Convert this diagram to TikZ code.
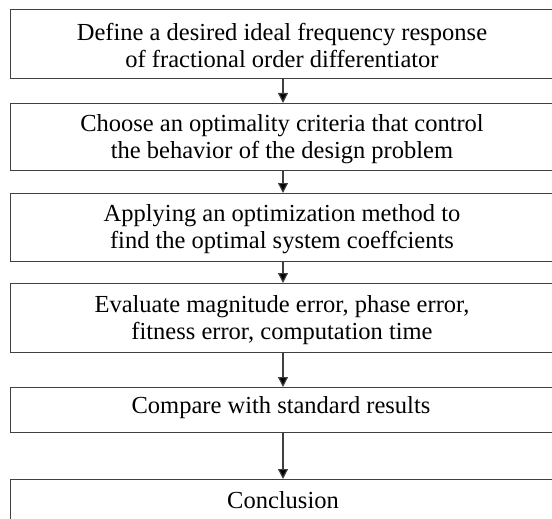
\documentclass[tikz,border=0pt]{standalone}
\usepackage{fontspec}
\setmainfont{Liberation Serif}
\usetikzlibrary{arrows.meta}
\begin{document}
\begin{tikzpicture}[x=1pt,y=-1pt,
  box/.style={draw=black!75,line width=1.2pt},
  txt/.style={font=\fontsize{24.5}{27}\selectfont,align=center,inner sep=0pt},
  conn/.style={draw=black!75,line width=1.2pt,-{Triangle[width=10pt,length=10pt,fill=black]}}]
\useasboundingbox (0,0) rectangle (552,519);
\clip (0,0) rectangle (552,519);
\fill[white] (0,0) rectangle (552,519);
% boxes
\node[box,minimum width=546pt,minimum height=69pt,anchor=north west] (b1) at (9.5,9) {};
\node[box,minimum width=546pt,minimum height=67pt,anchor=north west] (b2) at (9.5,103) {};
\node[box,minimum width=546pt,minimum height=68pt,anchor=north west] (b3) at (9.5,193) {};
\node[box,minimum width=546pt,minimum height=69pt,anchor=north west] (b4) at (9.5,283) {};
\node[box,minimum width=546pt,minimum height=45pt,anchor=north west] (b5) at (9.5,387) {};
\node[box,minimum width=546pt,minimum height=69pt,anchor=north west] (b6) at (9.5,479) {};
% texts
\node[txt] (t1) at (282,45.5) {Define a desired ideal frequency response\\of fractional order differentiator};
\node[txt] (t2) at (282,139) {Choose an optimality criteria that control\\the behavior of the design problem};
\node[txt] (t3) at (282,229.5) {Applying an optimization method to\\find the optimal system coeffcients};
\node[txt] (t4) at (282,320) {Evaluate magnitude error, phase error,\\fitness error, computation time};
\node[txt,anchor=base] (t5) at (281,413) {Compare with standard results};
\node[txt,anchor=base] (t6) at (283,508) {Conclusion};
% connectors
\coordinate (a1) at (283,78);
\coordinate (a2) at (283,103);
\coordinate (a3) at (283,170);
\coordinate (a4) at (283,193);
\coordinate (a5) at (283,261);
\coordinate (a6) at (283,283);
\coordinate (a7) at (283,352);
\coordinate (a8) at (283,387);
\coordinate (a9) at (283,432);
\coordinate (a10) at (283,479);
\draw[conn] (a1) -- (a2);
\draw[conn] (a3) -- (a4);
\draw[conn] (a5) -- (a6);
\draw[conn] (a7) -- (a8);
\draw[conn] (a9) -- (a10);
\end{tikzpicture}
\end{document}
